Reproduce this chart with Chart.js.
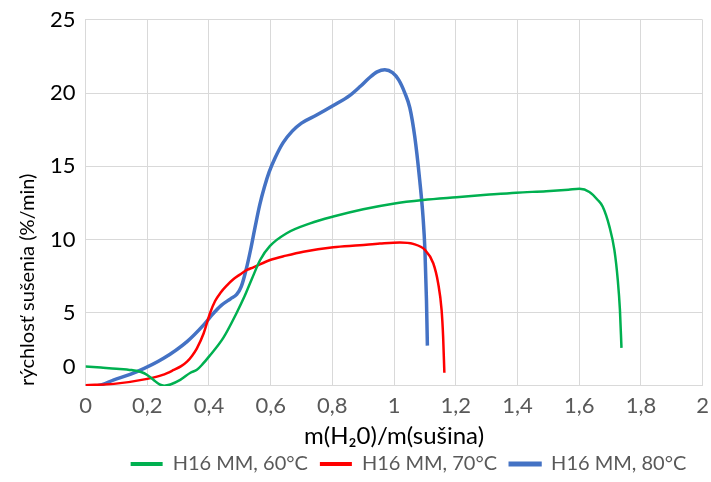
<!DOCTYPE html>
<html>
<head>
<meta charset="utf-8">
<script src="https://cdn.jsdelivr.net/npm/chart.js@4/dist/chart.umd.min.js"></script>
<style>
  html, body { margin: 0; padding: 0; background: #fff; }
  #wrap { width: 711px; height: 482px; }
</style>
</head>
<body>
<div id="wrap"><canvas id="c"></canvas></div>
<script>
// ---- data ----
const seriesNames = ["H16 MM, 60°C", "H16 MM, 70°C", "H16 MM, 80°C"];
const xTicks = [0, 0.2, 0.4, 0.6, 0.8, 1, 1.2, 1.4, 1.6, 1.8, 2];
const yTicks = [0, 5, 10, 15, 20, 25];

const g60x = [0, 0.05, 0.1, 0.15, 0.18, 0.2, 0.22, 0.24, 0.255, 0.275, 0.307, 0.34, 0.361, 0.38, 0.40, 0.447, 0.49, 0.515, 0.539, 0.566, 0.598, 0.652, 0.728, 0.803, 0.9, 0.997, 1.094, 1.202, 1.299, 1.396, 1.493, 1.565, 1.601, 1.633, 1.66, 1.676, 1.698, 1.714, 1.725, 1.732, 1.737];
const g60y = [1.32, 1.25, 1.18, 1.08, 0.95, 0.75, 0.42, 0.1, 0.02, 0.1, 0.41, 0.9, 1.1, 1.5, 2.0, 3.3, 5.0, 6.1, 7.3, 8.6, 9.56, 10.43, 11.1, 11.57, 12.07, 12.45, 12.7, 12.89, 13.05, 13.2, 13.3, 13.4, 13.46, 13.25, 12.7, 12.25, 10.88, 9.29, 7.24, 5.19, 2.6];

const r70x = [0, 0.092, 0.2, 0.25, 0.286, 0.31, 0.329, 0.345, 0.361, 0.383, 0.404, 0.42, 0.437, 0.46, 0.48, 0.5, 0.523, 0.544, 0.598, 0.65, 0.706, 0.803, 0.889, 0.954, 1.019, 1.062, 1.1, 1.127, 1.143, 1.154, 1.159, 1.163];
const r70y = [0.05, 0.14, 0.48, 0.75, 1.09, 1.35, 1.66, 2.05, 2.57, 3.6, 5.0, 5.8, 6.35, 6.9, 7.3, 7.6, 7.92, 8.1, 8.6, 8.9, 9.17, 9.47, 9.6, 9.72, 9.8, 9.7, 9.29, 8.38, 7.0, 5.19, 3.37, 0.9];

const b80x = [0, 0.038, 0.092, 0.167, 0.253, 0.329, 0.383, 0.41, 0.44, 0.47, 0.49, 0.505, 0.52, 0.535, 0.55, 0.565, 0.58, 0.595, 0.615, 0.64, 0.67, 0.7, 0.749, 0.803, 0.857, 0.89, 0.92, 0.945, 0.97, 0.995, 1.015, 1.035, 1.051, 1.067, 1.083, 1.094, 1.1, 1.105, 1.108];
const b80y = [0, 0.02, 0.41, 0.98, 1.89, 3.03, 4.17, 4.85, 5.5, 5.95, 6.25, 6.8, 7.9, 9.3, 10.9, 12.4, 13.6, 14.6, 15.6, 16.6, 17.4, 17.95, 18.5, 19.15, 19.85, 20.45, 21.05, 21.45, 21.6, 21.4, 20.9, 20.0, 19.0, 17.03, 14.07, 11.5, 9.29, 5.87, 2.75];

const xTitle = "m(H₂0)/m(sušina)";
const yTitle = "rýchlosť sušenia (%/min)";

// ---- build ----
function pts(xs, ys) { return xs.map((x, i) => ({ x: x, y: ys[i] })); }

const FONT = "Lato, 'Open Sans', sans-serif";
const GRID = "#d9d9d9";
const TICK_SIZE = 22;

const zeroLabelPlugin = {
  id: 'zeroLabel',
  afterDraw(chart) {
    const s = chart.scales.y;
    const ctx = chart.ctx;
    ctx.save();
    ctx.font = TICK_SIZE + "px " + FONT;
    ctx.fillStyle = "#000";
    ctx.textAlign = "right";
    ctx.textBaseline = "middle";
    ctx.fillText("0", s.right - 10, s.getPixelForValue(1.3));
    ctx.restore();
  }
};

const legendShift = {
  id: 'legendShift',
  afterLayout(chart) {
    const lg = chart.legend;
    if (lg) { lg.left += 45; lg.right += 45; }
  }
};

new Chart(document.getElementById('c'), {
  type: 'scatter',
  data: {
    datasets: [
      { label: seriesNames[0], data: pts(g60x, g60y), borderColor: '#00b050', backgroundColor: '#00b050', borderWidth: 2.5 },
      { label: seriesNames[1], data: pts(r70x, r70y), borderColor: '#ff0000', backgroundColor: '#ff0000', borderWidth: 2.5 },
      { label: seriesNames[2], data: pts(b80x, b80y), borderColor: '#4472c4', backgroundColor: '#4472c4', borderWidth: 3.5 }
    ]
  },
  options: {
    responsive: true,
    maintainAspectRatio: false,
    animation: false,
    showLine: true,
    elements: {
      point: { radius: 0, hoverRadius: 0 },
      line: { cubicInterpolationMode: 'monotone', fill: false }
    },
    layout: { padding: { left: 16, right: 0, top: 3, bottom: -2 } },
    scales: {
      x: {
        type: 'linear',
        min: 0, max: 2,
        afterBuildTicks(axis) { axis.ticks = xTicks.map(v => ({ value: v })); },
        grid: { color: GRID, lineWidth: 1, drawTicks: false },
        border: { color: GRID },
        ticks: {
          padding: 2,
          color: '#595959',
          font: { size: TICK_SIZE, family: FONT, lineHeight: 1.64 },
          callback: v => String(v).replace('.', ',')
        },
        title: { display: true, text: xTitle, color: '#000', font: { size: 24, family: FONT, lineHeight: 0.5 }, padding: { top: 4, bottom: 0 } }
      },
      y: {
        type: 'linear',
        min: 0, max: 25,
        afterBuildTicks(axis) { axis.ticks = yTicks.map(v => ({ value: v })); },
        grid: { color: GRID, lineWidth: 1, drawTicks: false },
        border: { color: GRID },
        ticks: {
          padding: 10,
          color: '#000',
          font: { size: TICK_SIZE, family: FONT, lineHeight: 0.9 },
          callback: v => (v === 0 ? '' : String(v))
        },
        title: { display: true, text: yTitle, align: 'start', color: '#000', font: { size: 20, family: FONT, lineHeight: 1.2 }, padding: { top: 0, bottom: 0 } }
      }
    },
    plugins: {
      tooltip: { enabled: false },
      legend: {
        position: 'bottom',
        labels: {
          color: '#595959',
          font: { size: 20, family: FONT },
          boxWidth: 32,
          boxHeight: 4,
          padding: 12,
          generateLabels(chart) {
            const items = Chart.defaults.plugins.legend.labels.generateLabels(chart);
            items.forEach((it, i) => { it.lineWidth = (i === 2 ? 1.2 : 0); });
            return items;
          }
        }
      }
    }
  },
  plugins: [zeroLabelPlugin, legendShift]
});
</script>
</body>
</html>
